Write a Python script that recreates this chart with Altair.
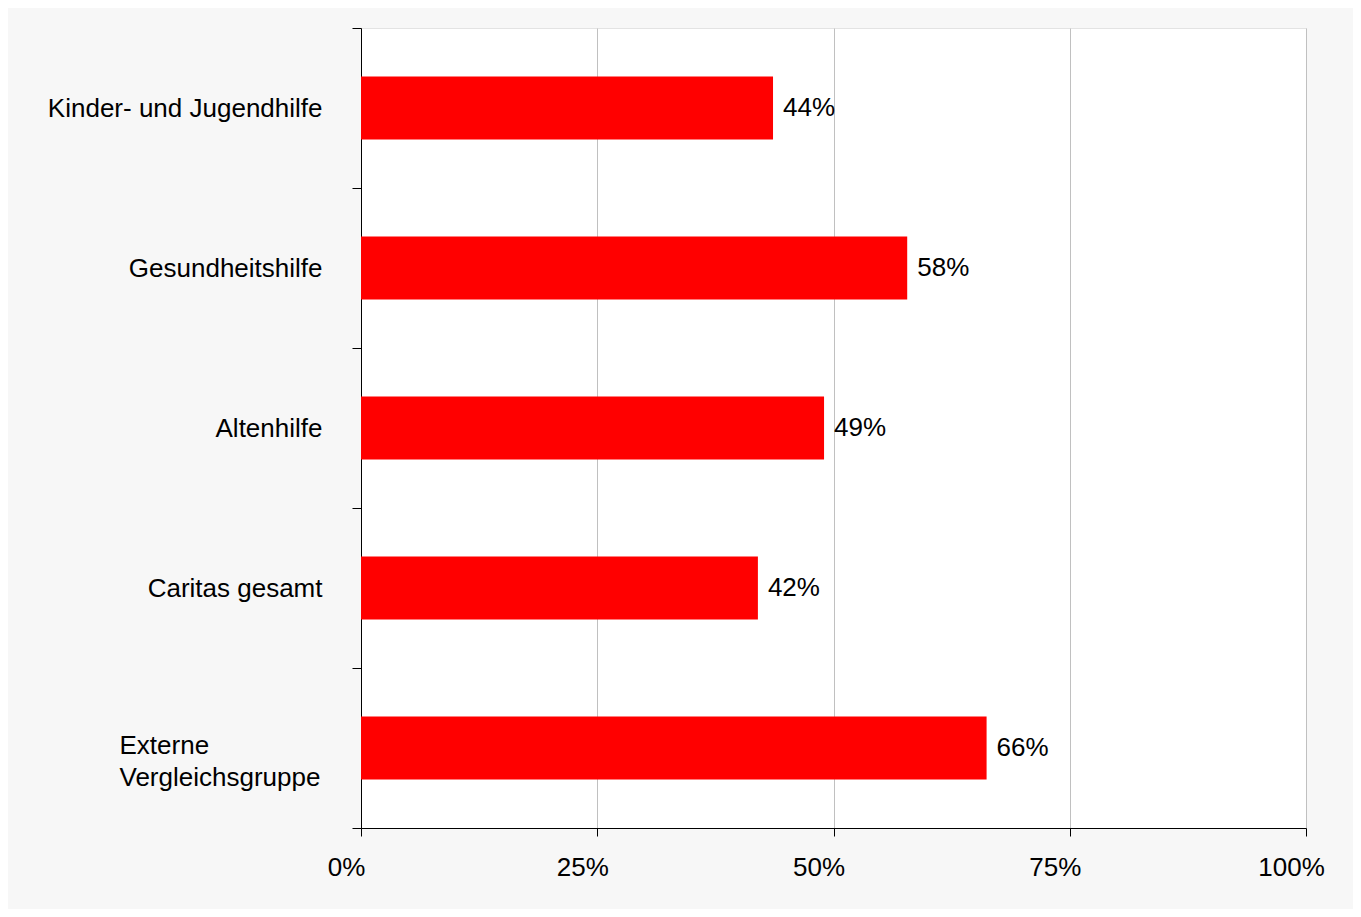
import altair as alt
import pandas as pd

categories = ["Kinder- und Jugendhilfe", "Gesundheitshilfe", "Altenhilfe",
              "Caritas gesamt", "Externe Vergleichsgruppe"]
values = [0.436, 0.578, 0.490, 0.420, 0.662]
value_labels = ["44%", "58%", "49%", "42%", "66%"]
x_ticks = [0, 0.25, 0.5, 0.75, 1.0]

df = pd.DataFrame({"cat": categories, "val": values, "lab": value_labels})

FONT = "Liberation Sans"
is_ext = "datum.value == 'Externe Vergleichsgruppe'"

y_enc = alt.Y(
    "cat:N", sort=categories, title=None,
    scale=alt.Scale(paddingInner=0, paddingOuter=0),
    axis=alt.Axis(
        domainColor="black", tickColor="black", tickSize=9, tickBand="extent",
        labelFont=FONT, labelFontSize=26, labelColor="black",
        labelAlign={"condition": {"test": is_ext, "value": "left"}, "value": "right"},
        labelPadding={"condition": {"test": is_ext, "value": 233}, "value": 30},
        labelOffset={"condition": {"test": is_ext, "value": -3}, "value": 0},
        labelExpr="datum.value == 'Externe Vergleichsgruppe' ? ['Externe', 'Vergleichsgruppe'] : datum.value",
        labelLineHeight=32, labelLimit=400, grid=False,
    ),
)

x_enc = alt.X(
    "val:Q", title=None,
    scale=alt.Scale(domain=[0, 1], nice=False),
    axis=alt.Axis(
        values=x_ticks, format=".0%", domainColor="black", tickColor="black",
        tickSize=8, labelFont=FONT, labelFontSize=26, labelColor="black",
        labelPadding=18, labelOffset=-15, grid=True, gridColor="#c0c0c0",
        labelFlush=False,
    ),
)

bars = alt.Chart(df).mark_bar(color="#ff0000", size=63).encode(x=x_enc, y=y_enc)
texts = alt.Chart(df).mark_text(
    align="left", baseline="middle", dx=10, font=FONT, fontSize=26, color="black"
).encode(x="val:Q", y=alt.Y("cat:N", sort=categories), text="lab:N")

chart = (
    alt.layer(bars, texts)
    .properties(
        width=945, height=800,
        autosize=alt.AutoSizeParams(type="none"),
        padding={"left": 353, "top": 20, "right": 47, "bottom": 81},
        background="#f7f7f7",
    )
    .configure_view(fill="white", stroke="#e3e3e3")
)

chart.save("out.html", embed_options={"renderer": "svg", "actions": False})
